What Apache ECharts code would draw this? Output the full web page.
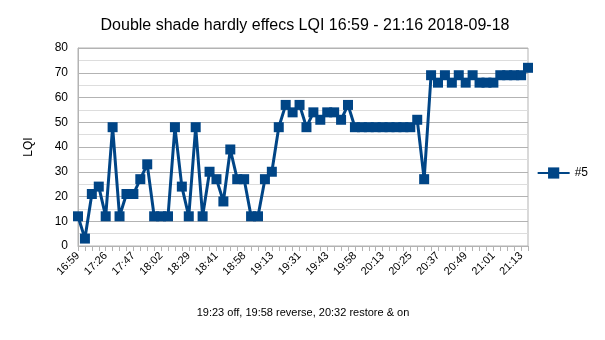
<!DOCTYPE html>
<html><head><meta charset="utf-8">
<script src="https://cdn.jsdelivr.net/npm/echarts@6/dist/echarts.min.js"></script>
<style>html,body{margin:0;padding:0;background:#fff}#c{width:605px;height:340px}</style>
</head><body><div id="c"></div>
<script>
const tickLabels = ['16:59','17:26','17:47','18:02','18:29','18:41','18:58','19:13','19:31','19:43','19:58','20:13','20:25','20:37','20:49','21:01','21:13'];
const seriesName = '#5';
const lqi = [12,3,21,24,12,48,12,21,21,27,33,12,12,12,48,24,12,48,12,30,27,18,39,27,27,12,12,27,30,48,57,54,57,48,54,51,54,54,51,57,48,48,48,48,48,48,48,48,48,51,27,69,66,69,66,69,66,69,66,66,66,69,69,69,69,72];
const labelEvery = 4;
const categories = lqi.map((v,i)=> (i % labelEvery === 0 && tickLabels[i/labelEvery]) ? tickLabels[i/labelEvery] : '');
const chart = echarts.init(document.getElementById('c'));
const font = 'Liberation Sans';
chart.setOption({
  animation:false,
  title:{text:'Double shade hardly effecs LQI 16:59 - 21:16 2018-09-18',left:300,textAlign:'center',top:13,
    textStyle:{fontFamily:font,fontSize:16,fontWeight:'normal',color:'#000'}},
  legend:{right:12,top:162,orient:'vertical',itemWidth:32,itemHeight:14,itemGap:5,
    textStyle:{fontFamily:font,fontSize:12,color:'#000'},data:[seriesName]},
  grid:{left:78,right:77,top:48,bottom:94,show:true,borderColor:'#b3b3b3',borderWidth:1},
  xAxis:{type:'category',data:categories,boundaryGap:false,
    name:'19:23 off, 19:58 reverse, 20:32 restore & on',nameLocation:'middle',nameGap:61,
    nameTextStyle:{fontFamily:font,fontSize:11,color:'#000'},
    axisLine:{lineStyle:{color:'#b3b3b3'}},
    axisTick:{show:true,interval:0,length:5,lineStyle:{color:'#b3b3b3'}},
    axisLabel:{interval:labelEvery-1,rotate:45,fontFamily:font,fontSize:11,color:'#000',margin:8},
    splitLine:{show:false}},
  yAxis:{type:'value',min:0,max:80,interval:10,name:'LQI',nameLocation:'middle',nameGap:43,
    nameTextStyle:{fontFamily:font,fontSize:12,color:'#000'},
    axisLine:{show:true,lineStyle:{color:'#b3b3b3'}},axisTick:{show:false},
    axisLabel:{fontFamily:font,fontSize:12,color:'#000',margin:10},
    splitLine:{lineStyle:{color:'#b3b3b3'}},
    minorTick:{show:false,splitNumber:2},
    minorSplitLine:{show:true,lineStyle:{color:'#dddddd'}}},
  series:[{name:seriesName,type:'line',data:lqi,symbol:'rect',symbolSize:10,showAllSymbol:true,
    lineStyle:{width:3,color:'#004586'},itemStyle:{color:'#004586'}}]
});
</script></body></html>
